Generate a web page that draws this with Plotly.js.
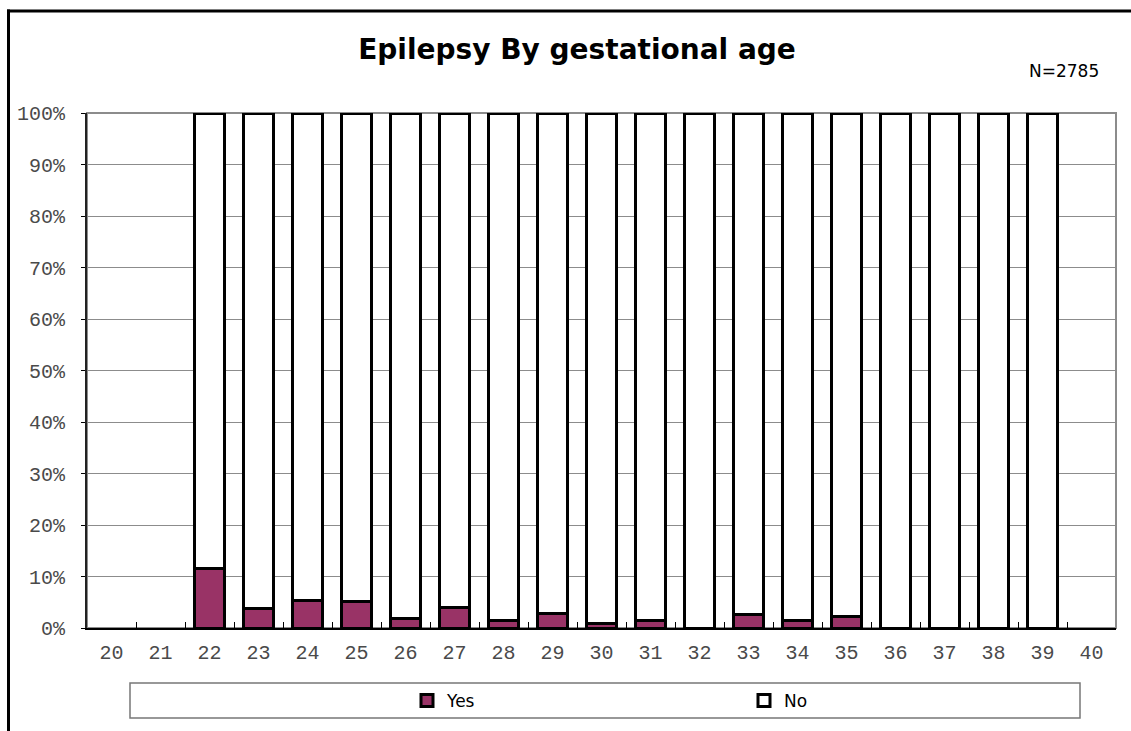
<!DOCTYPE html>
<html>
<head>
<meta charset="utf-8">
<script src="https://cdn.plot.ly/plotly-3.0.1.min.js"></script>
<style>body{margin:0;padding:0;background:#fff;} #chart{width:1131px;height:731px;}</style>
</head>
<body>
<div id="chart"></div>
<script>
const weeks = ['20','21','22','23','24','25','26','27','28','29','30','31','32','33','34','35','36','37','38','39','40'];
const yesShare = [null,null,0.115,0.037,0.053,0.052,0.018,0.040,0.015,0.029,0.008,0.015,0.000,0.026,0.014,0.023,0.000,0.000,0.000,0.000,null];
const noShare = yesShare.map(v => v === null ? null : 1 - v);
const seriesNames = ['Yes','No'];
const titleText = 'Epilepsy By gestational age';
const noteText = 'N=2785';

const W = 1131, H = 731;
const M = {l: 87, r: 15, t: 113, b: 103};
const PW = W - M.l - M.r, PH = H - M.t - M.b;
const px = x => (x - M.l) / PW;
const py = y => (H - M.b - y) / PH;

const mono = {family: 'Liberation Mono, Courier New, monospace', size: 20, color: '#4a4a4a'};

const traces = [
  {type: 'bar', name: seriesNames[0], x: weeks, y: yesShare,
   marker: {color: '#993366', line: {color: '#000', width: 3}}},
  {type: 'bar', name: seriesNames[1], x: weeks, y: noShare,
   marker: {color: '#ffffff', line: {color: '#000', width: 3}}}
];

const layout = {
  width: W, height: H,
  autosize: false,
  margin: M,
  paper_bgcolor: '#fff', plot_bgcolor: '#fff',
  barmode: 'stack', bargap: 0.4,
  showlegend: true,
  title: {text: '<b>' + titleText + '</b>', x: 577 / W, xanchor: 'center', xref: 'container',
          y: 1 - 49 / H, yanchor: 'middle', yref: 'container',
          font: {family: 'DejaVu Sans, Verdana, sans-serif', size: 28, color: '#000'}},
  xaxis: {type: 'category', tickson: 'boundaries', ticks: 'inside', ticklen: 6, tickcolor: '#000', tickwidth: 1,
          showline: true, linecolor: '#000', linewidth: 2, showgrid: false,
          tickfont: mono, ticklabelstandoff: 5, fixedrange: true},
  yaxis: {range: [0, 1], dtick: 0.1, tickformat: '.0%', ticks: 'outside', ticklen: 4, tickcolor: '#000',
          showline: true, linecolor: '#222', linewidth: 2, showgrid: true, gridcolor: '#8c8c8c', gridwidth: 1,
          zeroline: false, tickfont: mono, ticklabelstandoff: 12, fixedrange: true},
  legend: {orientation: 'h', x: px(407), xanchor: 'left', y: py(701), yanchor: 'middle',
           bgcolor: 'rgba(0,0,0,0)', borderwidth: 0, entrywidth: 292, entrywidthmode: 'pixels',
           traceorder: 'normal',
           font: {family: 'DejaVu Sans, Verdana, sans-serif', size: 17, color: '#000'}},
  annotations: [
    {text: noteText, xref: 'paper', yref: 'paper', x: px(1101), y: py(71), xanchor: 'right', yanchor: 'middle',
     showarrow: false, font: {family: 'DejaVu Sans, Verdana, sans-serif', size: 17, color: '#000'}}
  ],
  shapes: [
    {type: 'rect', xref: 'paper', yref: 'paper', x0: 0, x1: 1, y0: 0, y1: 1, layer: 'below',
     line: {color: '#8c8c8c', width: 2}},
    {type: 'rect', xref: 'paper', yref: 'paper', x0: px(130), x1: px(1080), y0: py(683), y1: py(718),
     layer: 'below', line: {color: '#777', width: 1.5}, fillcolor: '#fff'},
    {type: 'line', xref: 'paper', yref: 'paper', x0: px(7), x1: px(1131), y0: py(11), y1: py(11),
     line: {color: '#000', width: 3}},
    {type: 'line', xref: 'paper', yref: 'paper', x0: px(8.5), x1: px(8.5), y0: py(9.5), y1: py(731),
     line: {color: '#000', width: 3}}
  ]
};

Plotly.newPlot('chart', traces, layout, {displayModeBar: false, staticPlot: true});
</script>
</body>
</html>
